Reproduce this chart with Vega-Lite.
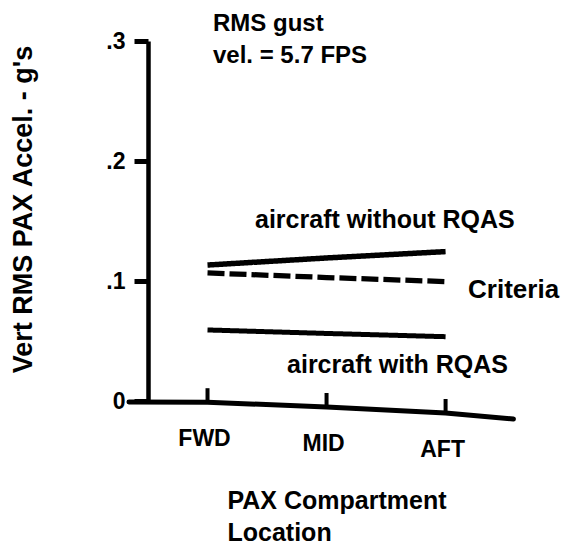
{
  "$schema": "https://vega.github.io/schema/vega-lite/v6.json",
  "width": 369,
  "height": 360,
  "autosize": "none",
  "padding": {"left": 148, "top": 41, "right": 51, "bottom": 148},
  "background": "white",
  "config": {
    "view": {"stroke": null},
    "font": "Liberation Sans",
    "text": {"font": "Liberation Sans", "fontWeight": "bold", "color": "black"}
  },
  "datasets": {
    "lines": [
      {"loc": 1, "accel": 0.1133, "series": "aircraft without RQAS"},
      {"loc": 2, "accel": 0.1192, "series": "aircraft without RQAS"},
      {"loc": 3, "accel": 0.1245, "series": "aircraft without RQAS"},
      {"loc": 1, "accel": 0.1067, "series": "Criteria"},
      {"loc": 2, "accel": 0.1029, "series": "Criteria"},
      {"loc": 3, "accel": 0.0995, "series": "Criteria"},
      {"loc": 1, "accel": 0.0592, "series": "aircraft with RQAS"},
      {"loc": 2, "accel": 0.0563, "series": "aircraft with RQAS"},
      {"loc": 3, "accel": 0.0536, "series": "aircraft with RQAS"}
    ],
    "baseline": [
      {"loc": 0.34, "accel": -0.0008},
      {"loc": 1, "accel": -0.001},
      {"loc": 2, "accel": -0.005},
      {"loc": 3, "accel": -0.010},
      {"loc": 3.57, "accel": -0.015}
    ],
    "ticks": [
      {"loc": 1, "accel": -0.001, "label": "FWD"},
      {"loc": 2, "accel": -0.005, "label": "MID"},
      {"loc": 3, "accel": -0.010, "label": "AFT"}
    ]
  },
  "resolve": {"axis": {"x": "independent", "y": "independent"}},
  "layer": [
    {
      "data": {"name": "lines"},
      "mark": {"type": "line", "color": "black", "strokeCap": "butt"},
      "encoding": {
        "x": {
          "field": "loc", "type": "quantitative",
          "scale": {"domain": [0.5, 3.6], "nice": false, "zero": false},
          "axis": {
            "labels": false, "ticks": false, "domain": false, "grid": false,
            "title": ["PAX Compartment", "Location"],
            "titleFont": "Liberation Sans", "titleFontSize": 25, "titleFontWeight": "bold",
            "titleColor": "black", "titleAlign": "left", "titleAnchor": "start",
            "titleBaseline": "alphabetic", "titleLineHeight": 32,
            "titleX": 79, "titleY": 107
          }
        },
        "y": {
          "field": "accel", "type": "quantitative",
          "scale": {"domain": [0, 0.3], "nice": false, "zero": false},
          "axis": {
            "values": [0, 0.1, 0.2, 0.3],
            "labelExpr": "datum.value === 0 ? '0' : '.' + round(datum.value * 10)",
            "grid": false,
            "domainColor": "black", "domainWidth": 4.5,
            "tickColor": "black", "tickWidth": 5, "tickSize": 14,
            "labelPadding": 9, "labelFont": "Liberation Sans", "labelFontSize": 23,
            "labelFontWeight": "bold", "labelColor": "black",
            "title": "Vert RMS PAX Accel. - g's",
            "titleFont": "Liberation Sans", "titleFontSize": 27, "titleFontWeight": "bold",
            "titleColor": "black", "titleAngle": -90, "titleAlign": "center",
            "titleBaseline": "middle", "titleX": -125, "titleY": 168
          }
        },
        "detail": {"field": "series"},
        "strokeDash": {
          "field": "series", "type": "nominal",
          "scale": {"domain": ["aircraft without RQAS", "Criteria", "aircraft with RQAS"], "range": [[1, 0], [17, 5], [1, 0]]},
          "legend": null
        },
        "strokeWidth": {
          "field": "series", "type": "nominal",
          "scale": {"domain": ["aircraft without RQAS", "Criteria", "aircraft with RQAS"], "range": [5.5, 5, 4.5]},
          "legend": null
        }
      }
    },
    {
      "data": {"name": "baseline"},
      "mark": {"type": "line", "color": "black", "strokeWidth": 5, "strokeCap": "round"},
      "encoding": {
        "x": {"field": "loc", "type": "quantitative", "scale": {"domain": [0.5, 3.6], "nice": false, "zero": false}, "axis": null},
        "y": {"field": "accel", "type": "quantitative", "scale": {"domain": [0, 0.3], "nice": false, "zero": false}, "axis": null}
      }
    },
    {
      "data": {"name": "ticks"},
      "mark": {"type": "tick", "orient": "vertical", "color": "black", "size": 14, "thickness": 4, "yOffset": -7, "opacity": 1},
      "encoding": {
        "x": {"field": "loc", "type": "quantitative", "scale": {"domain": [0.5, 3.6], "nice": false, "zero": false}, "axis": null},
        "y": {"field": "accel", "type": "quantitative", "scale": {"domain": [0, 0.3], "nice": false, "zero": false}, "axis": null}
      }
    },
    {
      "data": {"name": "ticks"},
      "mark": {"type": "text", "fontSize": 23, "baseline": "middle", "align": "center", "dy": 37, "dx": -3},
      "encoding": {
        "x": {"field": "loc", "type": "quantitative", "scale": {"domain": [0.5, 3.6], "nice": false, "zero": false}, "axis": null},
        "y": {"field": "accel", "type": "quantitative", "scale": {"domain": [0, 0.3], "nice": false, "zero": false}, "axis": null},
        "text": {"field": "label"}
      }
    },
    {
      "data": {"values": [{}]},
      "mark": {"type": "text", "fontSize": 24, "align": "left", "baseline": "alphabetic", "lineHeight": 32},
      "encoding": {
        "x": {"datum": 1.046, "type": "quantitative", "scale": {"domain": [0.5, 3.6], "nice": false, "zero": false}, "axis": null},
        "y": {"datum": 0.3083, "type": "quantitative", "scale": {"domain": [0, 0.3], "nice": false, "zero": false}, "axis": null},
        "text": {"value": ["RMS gust", "vel. = 5.7 FPS"]}
      }
    },
    {
      "data": {"values": [{}]},
      "mark": {"type": "text", "fontSize": 25, "align": "left", "baseline": "alphabetic"},
      "encoding": {
        "x": {"datum": 1.399, "type": "quantitative", "scale": {"domain": [0.5, 3.6], "nice": false, "zero": false}, "axis": null},
        "y": {"datum": 0.1442, "type": "quantitative", "scale": {"domain": [0, 0.3], "nice": false, "zero": false}, "axis": null},
        "text": {"value": "aircraft without RQAS"}
      }
    },
    {
      "data": {"values": [{}]},
      "mark": {"type": "text", "fontSize": 26, "align": "left", "baseline": "alphabetic"},
      "encoding": {
        "x": {"datum": 3.189, "type": "quantitative", "scale": {"domain": [0.5, 3.6], "nice": false, "zero": false}, "axis": null},
        "y": {"datum": 0.0858, "type": "quantitative", "scale": {"domain": [0, 0.3], "nice": false, "zero": false}, "axis": null},
        "text": {"value": "Criteria"}
      }
    },
    {
      "data": {"values": [{}]},
      "mark": {"type": "text", "fontSize": 25, "align": "left", "baseline": "alphabetic"},
      "encoding": {
        "x": {"datum": 1.668, "type": "quantitative", "scale": {"domain": [0.5, 3.6], "nice": false, "zero": false}, "axis": null},
        "y": {"datum": 0.0233, "type": "quantitative", "scale": {"domain": [0, 0.3], "nice": false, "zero": false}, "axis": null},
        "text": {"value": "aircraft with RQAS"}
      }
    }
  ]
}
